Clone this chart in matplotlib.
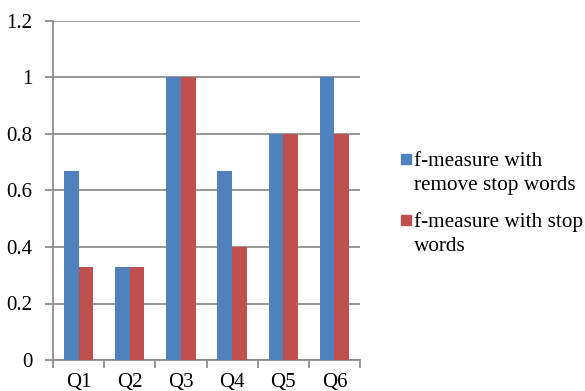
import matplotlib
matplotlib.use("Agg")
import matplotlib.pyplot as plt
import numpy as np
from matplotlib.patches import Rectangle

categories = ["Q1", "Q2", "Q3", "Q4", "Q5", "Q6"]
remove_stop = [0.67, 0.33, 1.0, 0.67, 0.8, 1.0]
with_stop = [0.33, 0.33, 1.0, 0.4, 0.8, 0.8]
series_names = ["f-measure with\nremove stop words", "f-measure with stop\nwords"]
y_ticks = [0, 0.2, 0.4, 0.6, 0.8, 1, 1.2]
y_tick_labels = ["0", "0.2", "0.4", "0.6", "0.8", "1", "1.2"]

BLUE = "#4F81BD"
RED = "#C0504D"
GRAY = "#868686"
W, H = 585, 391

plt.rcParams["font.family"] = ["Liberation Serif", "DejaVu Serif"]

fig = plt.figure(figsize=(W / 100, H / 100), dpi=100)
ax = fig.add_axes([53 / W, 1 - 360 / H, 307 / W, 339 / H])

x = np.arange(len(categories))
w = 1 / 3.5
ax.bar(x - w / 2, remove_stop, w, color=BLUE, zorder=3)
ax.bar(x + w / 2, with_stop, w, color=RED, zorder=3)

ax.set_xlim(-0.5, len(categories) - 0.5)
ax.set_ylim(0, 1.2)
ax.set_yticks(y_ticks)
ax.set_yticklabels(y_tick_labels, fontsize=15)
ax.set_xticks(x)
ax.set_xticklabels(categories, fontsize=15)
ax.set_xticks(np.arange(len(categories) + 1) - 0.5, minor=True)

ax.tick_params(axis="x", which="major", length=0, pad=9)
ax.tick_params(axis="x", which="minor", length=6, width=1.2, color=GRAY, direction="out")
ax.tick_params(axis="y", which="major", length=6, width=1.2, color=GRAY, direction="out", pad=9)

ax.yaxis.grid(True, color=GRAY, linewidth=1.2, zorder=0)
ax.set_axisbelow(True)
for side in ("top", "right"):
    ax.spines[side].set_visible(False)
for side in ("left", "bottom"):
    ax.spines[side].set_color(GRAY)
    ax.spines[side].set_linewidth(1.2)

# Legend: colour square beside the first line of each wrapped label
entry_top = [166, 227]   # baseline of the first label line, in pixels from the top
line_gap = 24
for name, color, base in zip(series_names, [BLUE, RED], entry_top):
    fig.patches.append(Rectangle((401 / W, 1 - (base - 2) / H), 10 / W, 10 / H,
                                 transform=fig.transFigure, color=color))
    for i, line in enumerate(name.split("\n")):
        fig.text(414 / W, 1 - (base + i * line_gap) / H, line,
                 fontsize=15.3, ha="left", va="baseline")

fig.savefig("out.png", dpi=100)
